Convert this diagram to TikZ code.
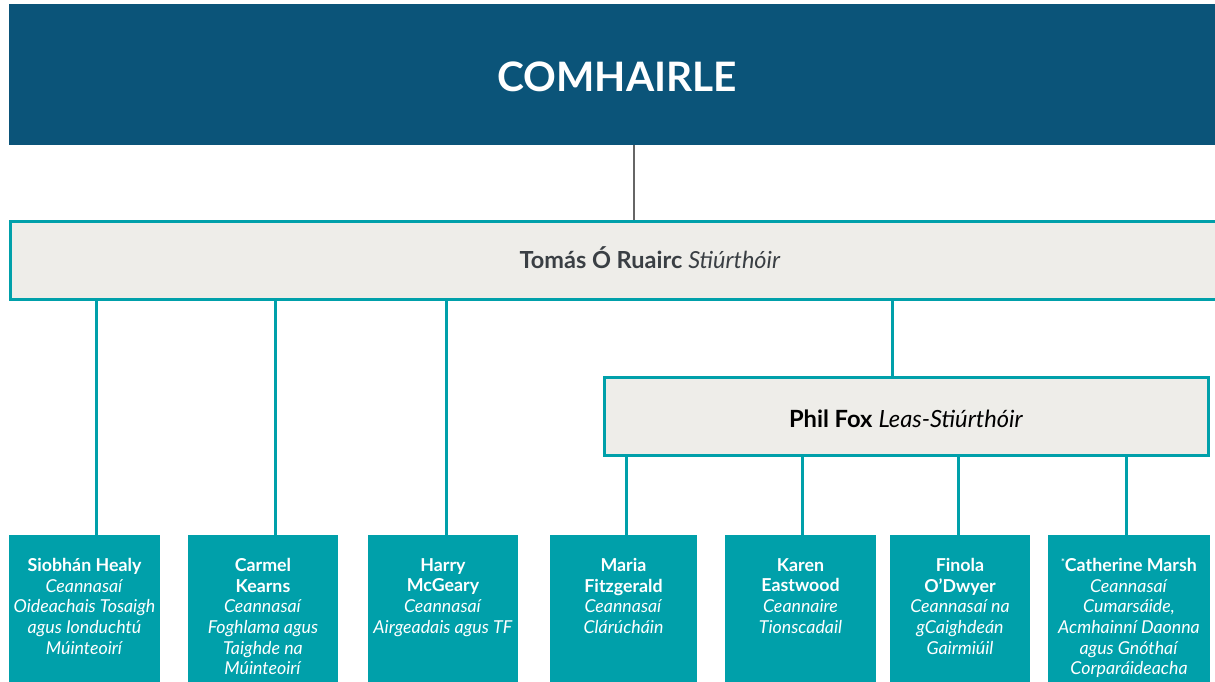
\documentclass[tikz,border=0pt]{standalone}
\usepackage{fontspec}
\setmainfont{Lato}
\definecolor{navy}{HTML}{0B5479}
\definecolor{tealc}{HTML}{00A0AA}
\definecolor{greyfill}{HTML}{EEEDE9}
\definecolor{darktext}{HTML}{3A3F44}
\definecolor{stem}{HTML}{666666}
\begin{document}
\begin{tikzpicture}[x=1pt,y=-1pt,
  topbox/.style={fill=navy, draw=none, anchor=north west, inner sep=0pt, outer sep=0pt},
  headbox/.style={fill=greyfill, draw=tealc, line width=3pt, anchor=north west, inner sep=0pt},
  member/.style={fill=tealc, draw=none, anchor=north west, inner sep=0pt, outer sep=0pt, minimum height=160pt},
  mtext/.style={anchor=north, align=center, text=white, font=\fontsize{17.8}{20.7}\selectfont, inner sep=0pt},
  conn/.style={draw=tealc, line width=3pt},
  stemline/.style={draw=stem, line width=2pt}
]
\useasboundingbox (0,0) rectangle (1215,682);
\clip (0,0) rectangle (1215,682);
% top
\node[topbox, minimum width=1216pt, minimum height=141pt] (council) at (9,4) {};
\node[text=white, font=\fontsize{40.6}{42}\selectfont\bfseries] (ctext) at (617,77) {COMHAIRLE};
% director
\node[headbox, minimum width=1290pt, minimum height=78pt] (tomas) at (9,220) {};
\node[text=darktext, font=\fontsize{23.5}{26}\selectfont] (ttext) at (650,258) {\textbf{Tomás Ó Ruairc} \textit{Stiúrthóir}};
\draw[stemline] (council.south -| 634,0) -- (tomas.north -| 634,0);
% deputy
\node[headbox, minimum width=604pt, minimum height=78pt] (phil) at (603,376) {};
\node[text=black, font=\fontsize{23.7}{26}\selectfont] (ptext) at (906,419) {\textbf{Phil Fox} \textit{Leas-Stiúrthóir}};
% members
\node[member, minimum width=151pt] (m1) at (9,535) {};
\node[member, minimum width=150pt] (m2) at (188,535) {};
\node[member, minimum width=150pt] (m3) at (368,535) {};
\node[member, minimum width=147pt] (m4) at (550,535) {};
\node[member, minimum width=151pt] (m5) at (725,535) {};
\node[member, minimum width=140pt] (m6) at (890,535) {};
\node[member, minimum width=162pt] (m7) at (1048,535) {};
\node[mtext] (t1) at (84.5,558) {\textbf{Siobhán Healy}\\\textit{Ceannasaí}\\\textit{Oideachais Tosaigh}\\\textit{agus Ionduchtú}\\\textit{Múinteoirí}};
\node[mtext] (t2) at (263,558) {\textbf{Carmel}\\\textbf{Kearns}\\\textit{Ceannasaí}\\\textit{Foghlama agus}\\\textit{Taighde na}\\\textit{Múinteoirí}};
\node[mtext] (t3) at (443,558) {\textbf{Harry}\\\textbf{McGeary}\\\textit{Ceannasaí}\\\textit{Airgeadais agus TF}};
\node[mtext] (t4) at (623.5,558) {\textbf{Maria}\\\textbf{Fitzgerald}\\\textit{Ceannasaí}\\\textit{Clárúcháin}};
\node[mtext] (t5) at (800.5,558) {\textbf{Karen}\\\textbf{Eastwood}\\\textit{Ceannaire}\\\textit{Tionscadail}};
\node[mtext] (t6) at (960,558) {\textbf{Finola}\\\textbf{O’Dwyer}\\\textit{Ceannasaí na}\\\textit{gCaighdeán}\\\textit{Gairmiúil}};
\node[mtext] (t7) at (1129,558) {\textbf{\raisebox{0.6ex}{\small *}Catherine Marsh}\\\textit{Ceannasaí}\\\textit{Cumarsáide,}\\\textit{Acmhainní Daonna}\\\textit{agus Gnóthaí}\\\textit{Corparáideacha}};
% connectors
\draw[conn] (tomas.south -| 96,0) -- (m1.north -| 96,0);
\draw[conn] (tomas.south -| 275,0) -- (m2.north -| 275,0);
\draw[conn] (tomas.south -| 446,0) -- (m3.north -| 446,0);
\draw[conn] (tomas.south -| 892,0) -- (phil.north -| 892,0);
\draw[conn] (phil.south -| 626,0) -- (m4.north -| 626,0);
\draw[conn] (phil.south -| 802,0) -- (m5.north -| 802,0);
\draw[conn] (phil.south -| 958,0) -- (m6.north -| 958,0);
\draw[conn] (phil.south -| 1126,0) -- (m7.north -| 1126,0);
\end{tikzpicture}
\end{document}
